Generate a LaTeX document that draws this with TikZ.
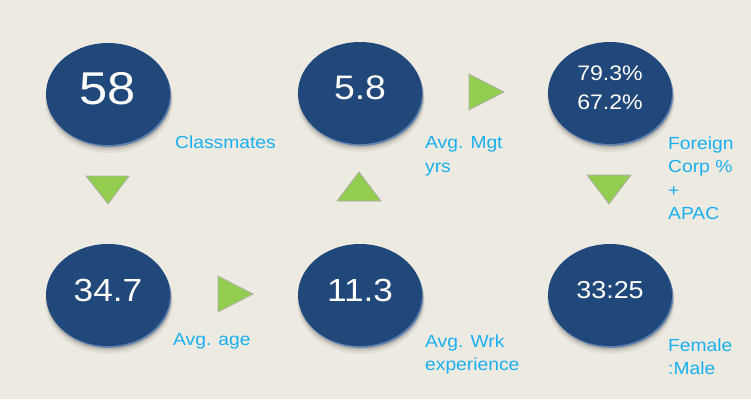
\documentclass[tikz,border=0pt]{standalone}
\usepackage{fontspec}
\setmainfont[FakeStretch=1.1]{Liberation Sans}
\usetikzlibrary{shapes.geometric}
\definecolor{bg}{HTML}{EDEAE1}
\definecolor{navy}{HTML}{21487A}
\definecolor{rim}{HTML}{6283B0}
\definecolor{lbl}{HTML}{1AB0F0}
\definecolor{tri}{HTML}{92CD50}
\newcommand\mydisc[5]{%
  \fill[black, opacity=0.05] (#2+1,#3+7) ellipse (64 and 52);
  \fill[black, opacity=0.08] (#2+1,#3+5) ellipse (63 and 51.5);
  \fill[black, opacity=0.12] (#2+1,#3+3.5) ellipse (62.5 and 51);
  \fill[rim] (#2+1.2,#3+1.8) ellipse (62 and 51);
  \node[disc] (#1) at (#2,#3) {};
  \node[num, font=#5] (#1t) at (#2,#3-5) {#4};
}
\newcommand\mytri[6]{%
  \fill[tri, draw=gray!65, line width=0.7pt, line join=miter] (#1,#2) -- (#3,#4) -- (#5,#6) -- cycle;
}
\begin{document}
\begin{tikzpicture}[x=1pt,y=-1pt,
  disc/.style={ellipse, fill=navy, minimum width=124pt, minimum height=102pt, inner sep=0pt},
  num/.style={text=white, align=center, inner sep=0pt},
  lab/.style={anchor=north west, text=lbl, font=\fontsize{17.5}{23.5}\selectfont, align=left, inner sep=0pt}
]
\fill[bg] (0,0) rectangle (751,399);
\useasboundingbox (0,0) rectangle (751,399);

\mydisc{c1}{108}{94}{58}{\fontsize{46}{50}\selectfont}
\mydisc{c2}{360}{93}{5.8}{\fontsize{34}{38}\selectfont}
\mydisc{c3}{610}{93}{79.3\%\\67.2\%}{\fontsize{21}{29}\selectfont}
\mydisc{c4}{108}{295}{34.7}{\fontsize{32}{36}\selectfont}
\mydisc{c5}{360}{295}{11.3}{\fontsize{32}{36}\selectfont}
\mydisc{c6}{610}{295}{33:25}{\fontsize{24.5}{28}\selectfont}

\node[lab] (l1) at (175,135.5) {Classmates};
\node[lab] (l2) at (425,136.5) {Avg. Mgt\\yrs};
\node[lab] (l3) at (668,136.5) {Foreign\\Corp \%\\+\\APAC};
\node[lab] (l4) at (173,333.5) {Avg. age};
\node[lab] (l5) at (425,334.5) {Avg. Wrk\\experience};
\node[lab] (l6) at (668,338.5) {Female\\:Male};

\mytri{86}{176}{129}{176}{108}{204}
\mytri{587}{175}{631}{175}{609}{204}
\mytri{218}{276}{253}{294}{218}{312}
\mytri{469}{74}{504}{92}{469}{110}
\mytri{337}{201}{381}{201}{359}{172}
\end{tikzpicture}
\end{document}
